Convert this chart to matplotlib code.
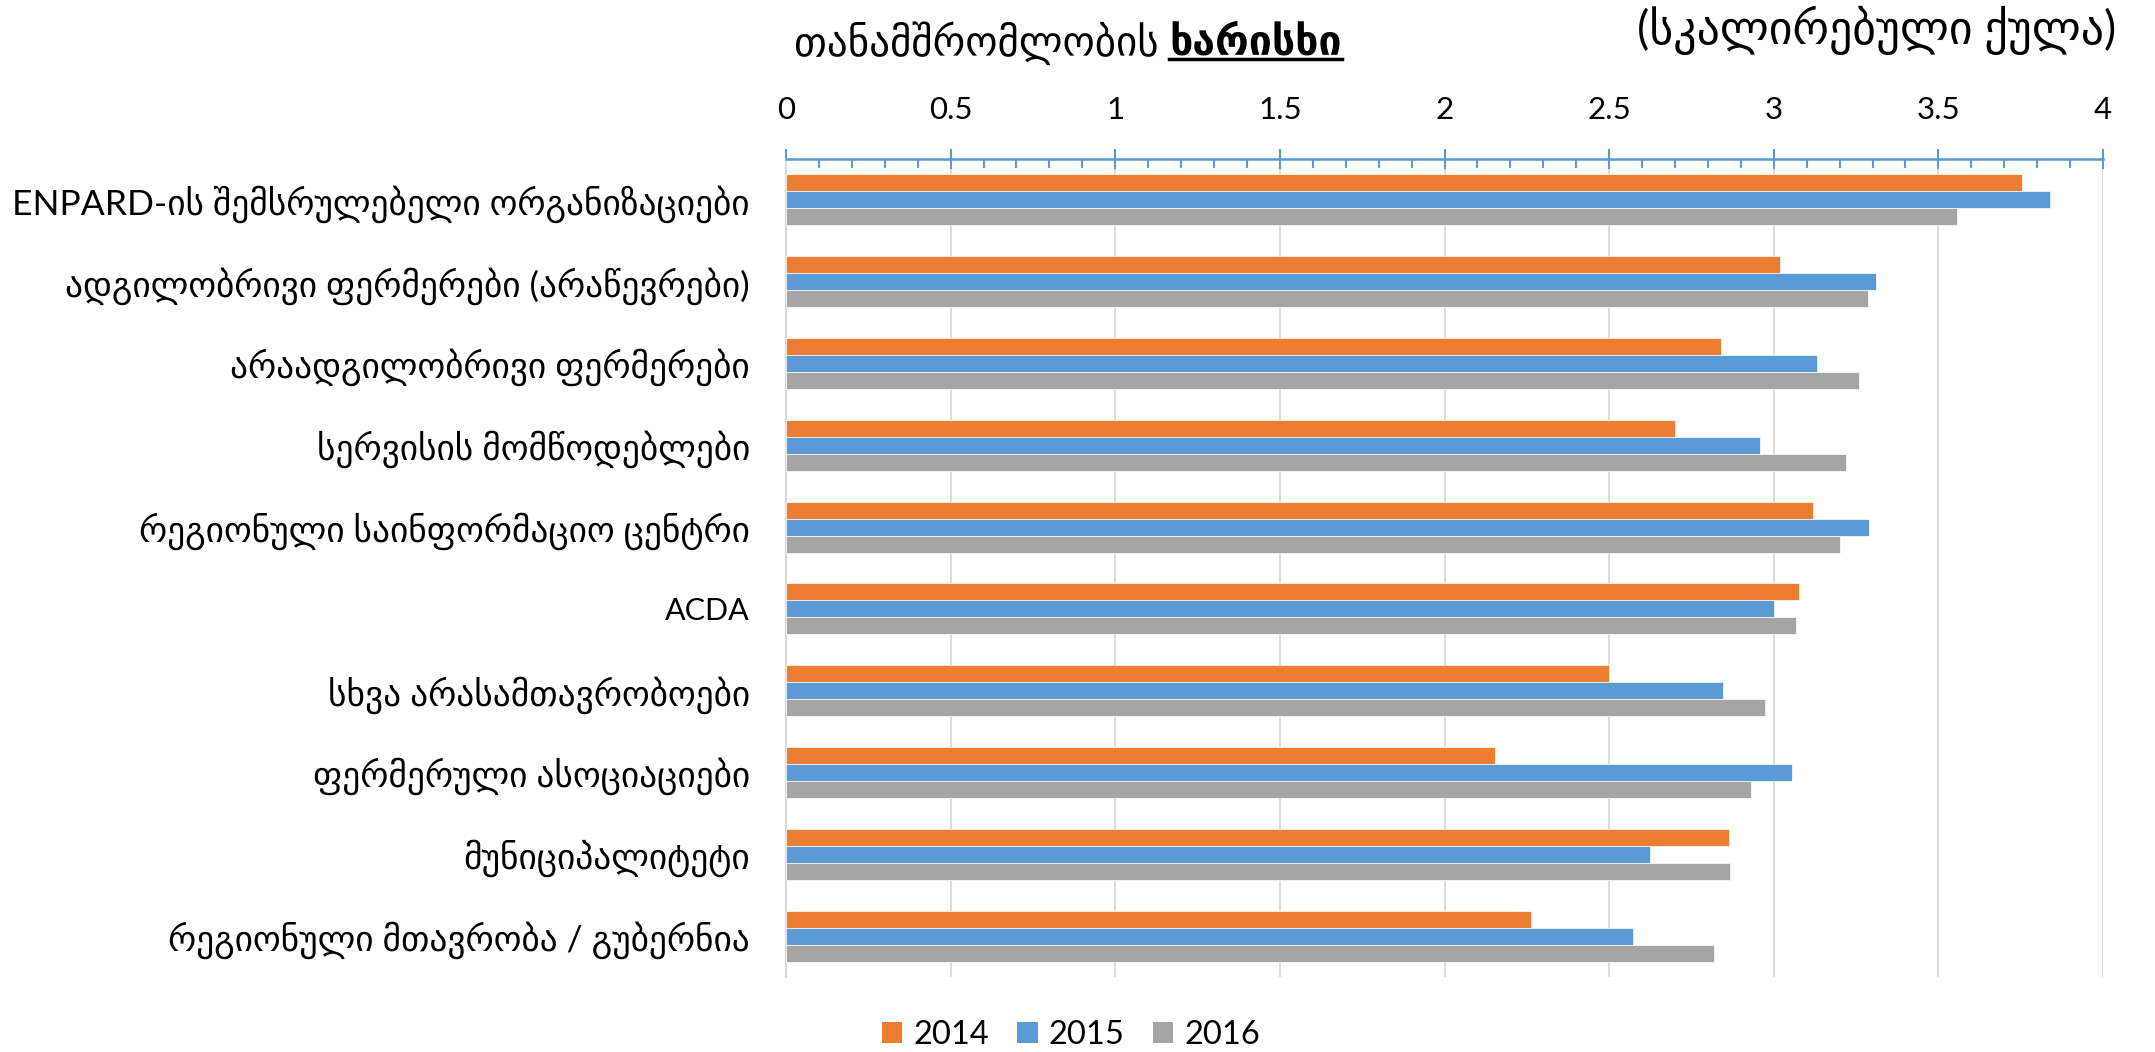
import matplotlib
matplotlib.use("Agg")
import matplotlib.pyplot as plt
import numpy as np
from matplotlib.patches import Patch
from matplotlib.lines import Line2D
from matplotlib.ticker import MultipleLocator

plt.rcParams['font.family'] = ['Lato', 'DejaVu Sans']

categories = [
    "ENPARD-ის შემსრულებელი ორგანიზაციები",
    "ადგილობრივი ფერმერები (არაწევრები)",
    "არაადგილობრივი ფერმერები",
    "სერვისის მომწოდებლები",
    "რეგიონული საინფორმაციო ცენტრი",
    "ACDA",
    "სხვა არასამთავრობოები",
    "ფერმერული ასოციაციები",
    "მუნიციპალიტეტი",
    "რეგიონული მთავრობა / გუბერნია",
]
years = ["2014", "2015", "2016"]
v2014 = [3.755, 3.02, 2.84, 2.70, 3.12, 3.076, 2.50, 2.154, 2.863, 2.262]
v2015 = [3.84, 3.31, 3.13, 2.958, 3.288, 3.00, 2.847, 3.056, 2.623, 2.572]
v2016 = [3.557, 3.285, 3.26, 3.22, 3.20, 3.068, 2.973, 2.932, 2.866, 2.82]
colors = ["#ED7D31", "#5B9BD5", "#A5A5A5"]
xticks = [0, 0.5, 1, 1.5, 2, 2.5, 3, 3.5, 4]
xticklabels = ["0", "0.5", "1", "1.5", "2", "2.5", "3", "3.5", "4"]

title_main = "თანამშრომლობის "
title_bold = "ხარისხი"
scale_note = "(სკალირებული ქულა)"

W, H = 2155, 1052
fig = plt.figure(figsize=(W / 100, H / 100), dpi=100)
ax = fig.add_axes([786 / W, 1 - 977 / H, (2103 - 786) / W, (977 - 159) / H])

y = np.arange(len(categories))
h = 0.625 / 3
for k, (vals, c) in enumerate(zip([v2014, v2015, v2016], colors)):
    ax.barh(y + (k - 1) * h, vals, height=h, color=c, edgecolor='white',
            linewidth=0.5, zorder=3, label=years[k])

ax.set_xlim(0, 4)
ax.set_ylim(len(categories) - 0.5, -0.5)
ax.xaxis.tick_top()
ax.set_xticks(xticks)
ax.set_xticklabels(xticklabels)
ax.xaxis.set_minor_locator(MultipleLocator(0.1))
ax.tick_params(axis='x', which='major', direction='inout', length=14.4, width=1.5,
               color='#5B9BD5', pad=18, labelsize=22.5, labelcolor='black')
ax.tick_params(axis='x', which='minor', direction='in', length=6.5, width=1.5,
               color='#5B9BD5')
ax.set_yticks(y)
ax.set_yticklabels(categories)
for lab in ax.get_yticklabels():
    lab.set_fontsize(22 if lab.get_text() == "ACDA" else 25.5)
ax.tick_params(axis='y', length=0, pad=26)
ax.grid(axis='x', which='major', color='#D9D9D9', linewidth=1.3, zorder=0)
for s in ['right', 'bottom']:
    ax.spines[s].set_visible(False)
ax.spines['top'].set_color('#5B9BD5')
ax.spines['top'].set_linewidth(1.8)
ax.spines['top'].set_zorder(5)
ax.spines['left'].set_color('#D9D9D9')
ax.spines['left'].set_linewidth(1.5)

t1 = fig.text(794 / W, 1 - 43 / H, title_main, fontsize=29.5, va='center', ha='left')
fig.canvas.draw()
r = fig.canvas.get_renderer()
bb = t1.get_window_extent(r)
t2 = fig.text(bb.x1 / W, 1 - 43 / H, title_bold, fontsize=29.5, fontweight='bold',
              va='center', ha='left')
fig.canvas.draw()
bb2 = t2.get_window_extent(r)
uy = (bb2.y0 + 3) / H
fig.add_artist(Line2D([bb2.x0 / W, bb2.x1 / W], [uy, uy], color='black', linewidth=2.5))

fig.text(2116 / W, 1 - 30 / H, scale_note, fontsize=33, va='center', ha='right')

handles = [Patch(facecolor=c, edgecolor='none') for c in colors]
fig.legend(handles, years, loc='center', bbox_to_anchor=(0.497, 0.016), ncol=3,
           frameon=False, fontsize=23.5, handlelength=0.62, handleheight=0.62,
           handletextpad=0.35, columnspacing=0.85)

fig.savefig("out.png", dpi=100)
